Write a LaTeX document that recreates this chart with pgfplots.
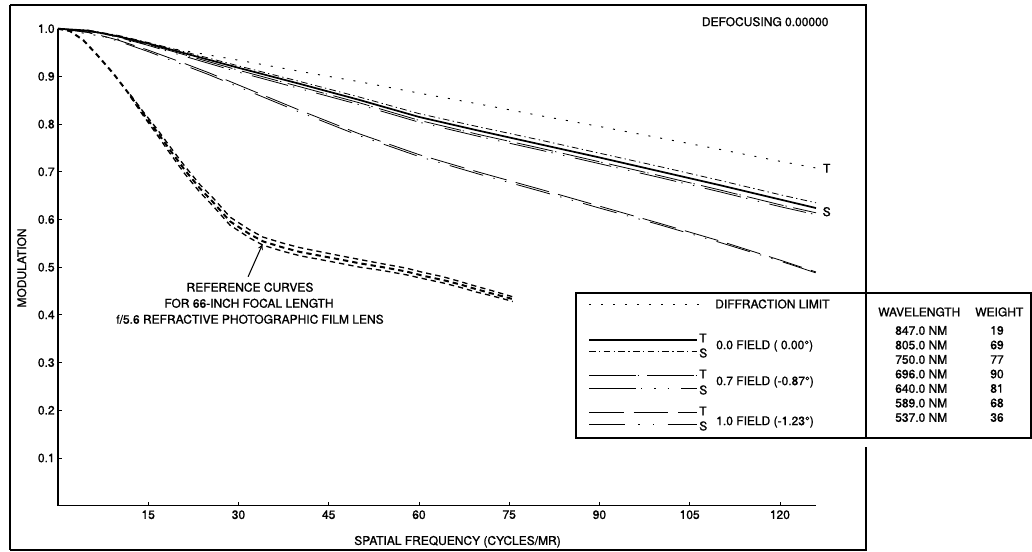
\documentclass[border=0pt]{standalone}
\usepackage{pgfplots}
\pgfplotsset{compat=1.18}
\usepackage{fontspec}
\setmainfont{TeX Gyre Heros}[FakeBold=1.2]
\begin{document}
\begin{tikzpicture}[x=0.75pt,y=0.75pt,font=\fontsize{9}{10}\selectfont]
\useasboundingbox (0,0) rectangle (1032,552);
% outer frame
\draw[line width=1pt] (10,547) -- (866,547) -- (866,259);
\draw[line width=1.6pt] (10,547) -- (10,2);
\draw[line width=1pt] (10,2) -- (866,2) -- (866,105);
\begin{axis}[
  at={(43.5pt,34.725pt)}, anchor=south west,
  scale only axis, width=568.5pt, height=357.75pt,
  xmin=0, xmax=126, ymin=0, ymax=1,
  axis lines*=left, axis line style={line width=1pt},
  clip=false,
  xtick={15,30,45,60,75,90,105,120},
  xticklabels={15,30,45,60,75,90,105,120},
  ytick={0.1,0.2,0.3,0.4,0.5,0.6,0.7,0.8,0.9,1.0},
  yticklabels={0.1,0.2,0.3,0.4,0.5,0.6,0.7,0.8,0.9,1.0},
  tick align=inside, major tick length=3pt,
  tick style={line width=0.6pt, black},
  ticklabel style={font=\fontsize{9}{10}\selectfont},
  /pgf/number format/assume math mode=true,
  yticklabel style={xshift=1pt},
]
% diffraction limit
\addplot[black, line width=0.7pt, dash pattern=on 1.5pt off 7.5pt] coordinates {
(0,1.0) (10,0.978) (20,0.956) (30,0.934) (40,0.911) (50,0.889) (60,0.865) (70,0.842) (80,0.818) (90,0.795) (100,0.771) (110,0.747) (120,0.722) (126,0.708)};
% 0.0 field T
\addplot[black, line width=1.3pt] coordinates {
(0,1.0) (5,0.996) (10,0.984) (15,0.969) (20,0.952) (30,0.918) (40,0.885) (50,0.851) (60,0.815) (70,0.786) (80,0.758) (90,0.730) (100,0.701) (110,0.672) (120,0.642) (126,0.624)};
% 0.0 field S
\addplot[black, line width=0.6pt, dash pattern=on 5pt off 2.5pt on 1pt off 2.5pt] coordinates {
(0,1.0) (5,0.997) (10,0.986) (15,0.971) (20,0.955) (30,0.922) (40,0.890) (50,0.857) (60,0.822) (70,0.794) (80,0.767) (90,0.739) (100,0.711) (110,0.682) (120,0.652) (126,0.635)};
% 0.7 field T
\addplot[black, line width=0.6pt, dash pattern=on 28pt off 1.5pt on 1pt off 5pt] coordinates {
(0,1.0) (5,0.995) (10,0.983) (15,0.967) (20,0.949) (30,0.913) (40,0.879) (50,0.845) (60,0.808) (70,0.778) (80,0.750) (90,0.721) (100,0.692) (110,0.662) (120,0.631) (126,0.614)};
% 0.7 field S
\addplot[black, line width=0.6pt, dash pattern=on 28pt off 4pt on 1pt off 8pt on 1pt off 8pt] coordinates {
(0,1.0) (5,0.995) (10,0.982) (15,0.965) (20,0.946) (30,0.909) (40,0.875) (50,0.841) (60,0.804) (70,0.774) (80,0.746) (90,0.717) (100,0.688) (110,0.658) (120,0.627) (126,0.610)};
% 1.0 field T
\addplot[black, line width=0.6pt, dash pattern=on 26pt off 7pt] coordinates {
(0,1.0) (5,0.993) (10,0.976) (15,0.955) (20,0.932) (25,0.908) (30,0.882) (40,0.830) (50,0.780) (60,0.736) (70,0.699) (80,0.664) (90,0.628) (100,0.592) (110,0.555) (120,0.515) (126,0.490)};
% 1.0 field S
\addplot[black, line width=0.6pt, dash pattern=on 26pt off 8pt on 1pt off 8pt on 1pt off 8pt] coordinates {
(0,1.0) (5,0.992) (10,0.974) (15,0.952) (20,0.928) (25,0.904) (30,0.878) (40,0.826) (50,0.776) (60,0.732) (70,0.695) (80,0.660) (90,0.624) (100,0.589) (110,0.552) (120,0.513) (126,0.488)};
% reference curves
\addplot[black, line width=1.5pt, dash pattern=on 4pt off 3pt] coordinates {
(0,1.0) (2,0.995) (4.2,0.976) (6.5,0.945) (9.2,0.906) (12,0.860) (14.1,0.823) (16.5,0.783) (18.6,0.746) (21,0.705) (23.6,0.665) (25.8,0.636) (28.6,0.596) (31.9,0.569) (34.1,0.554) (37.2,0.542) (40.2,0.532) (45.7,0.519) (50.2,0.508) (54,0.500) (57.9,0.491) (60.7,0.482) (64,0.473) (66.8,0.464) (69.5,0.454) (71.8,0.446) (74.5,0.437) (75.6,0.433)};
\addplot[black, line width=1pt, dash pattern=on 4pt off 3pt] coordinates {
(12,0.862) (14.1,0.827) (16.5,0.789) (18.6,0.753) (21,0.713) (23.6,0.673) (25.8,0.645) (28.6,0.605) (31.9,0.578) (34.1,0.563) (37.2,0.551) (40.2,0.541) (45.7,0.527) (50.2,0.516) (54,0.507) (57.9,0.498) (60.7,0.489) (64,0.480) (66.8,0.470) (69.5,0.460) (71.8,0.452) (74.5,0.442) (75.6,0.438)};
\addplot[black, line width=1pt, dash pattern=on 4pt off 3pt] coordinates {
(12,0.858) (14.1,0.819) (16.5,0.777) (18.6,0.739) (21,0.697) (23.6,0.657) (25.8,0.628) (28.6,0.588) (31.9,0.561) (34.1,0.546) (37.2,0.534) (40.2,0.524) (45.7,0.511) (50.2,0.500) (54,0.493) (57.9,0.484) (60.7,0.476) (64,0.467) (66.8,0.458) (69.5,0.448) (71.8,0.441) (74.5,0.432) (75.6,0.428)};
\draw[-stealth, line width=0.8pt] (axis cs:31.6,0.480) -- (axis cs:34.0,0.548);
\end{axis}
% annotation text
\node at (250,264.7) {REFERENCE CURVES};
\node at (249,248.7) {FOR 66-INCH FOCAL LENGTH};
\node at (250,232.7) {f/5.6 REFRACTIVE PHOTOGRAPHIC FILM LENS};
\node[anchor=west, inner sep=0pt] at (701.7,530.3) {DEFOCUSING 0.00000};
\node[rotate=90] at (21.7,284) {MODULATION};
\node at (457.5,10.3) {SPATIAL FREQUENCY (CYCLES/MR)};
\node at (826.7,383.7) {T};
\node at (826.7,340.3) {S};
% legend
\draw[line width=0.9pt, fill=white] (576,114) rectangle (1031,259);
\draw[line width=0.9pt] (866,114) -- (866,259);
\draw[line width=0.7pt, dash pattern=on 1.5pt off 7.5pt] (589,248) -- (699,248);
\node[anchor=west, inner sep=0pt] at (715,248) {DIFFRACTION LIMIT};
\draw[line width=0.9pt] (589,212) -- (697,212);
\draw[line width=0.6pt, dash pattern=on 5pt off 2.5pt on 1pt off 2.5pt] (589,201) -- (697,201);
\node[anchor=west, inner sep=0pt] at (699,214) {T};
\node[anchor=west, inner sep=0pt] at (699,199) {S};
\node[anchor=west, inner sep=0pt] at (716,206) {0.0 FIELD ( 0.00°)};
\draw[line width=0.6pt, dash pattern=on 35pt off 1.5pt on 1pt off 6pt] (589,177) -- (697,177);
\draw[line width=0.6pt, dash pattern=on 35pt off 4pt on 1pt off 9pt on 1pt off 9pt on 1pt off 9pt] (589,164) -- (697,164);
\node[anchor=west, inner sep=0pt] at (699,178) {T};
\node[anchor=west, inner sep=0pt] at (699,162) {S};
\node[anchor=west, inner sep=0pt] at (716,170) {0.7 FIELD (-0.87°)};
\draw[line width=0.6pt, dash pattern=on 26pt off 7.5pt] (589,140) -- (697,140);
\draw[line width=0.6pt, dash pattern=on 27pt off 10pt on 1pt off 10pt on 1pt off 10pt] (589,128) -- (697,128);
\node[anchor=west, inner sep=0pt] at (699,141) {T};
\node[anchor=west, inner sep=0pt] at (699,126) {S};
\node[anchor=west, inner sep=0pt] at (716,130) {1.0 FIELD (-1.23°)};
\node[anchor=west, inner sep=0pt] at (878,240) {WAVELENGTH};
\node[anchor=west, inner sep=0pt] at (975,240) {WEIGHT};
\node[anchor=west, inner sep=0pt] at (895,221.5) {847.0 NM};
\node[anchor=west, inner sep=0pt] at (895,207) {805.0 NM};
\node[anchor=west, inner sep=0pt] at (895,192.5) {750.0 NM};
\node[anchor=west, inner sep=0pt] at (895,178) {696.0 NM};
\node[anchor=west, inner sep=0pt] at (895,163.5) {640.0 NM};
\node[anchor=west, inner sep=0pt] at (895,149) {589.0 NM};
\node[anchor=west, inner sep=0pt] at (895,134.5) {537.0 NM};
\node[inner sep=0pt] at (997,221.5) {19};
\node[inner sep=0pt] at (997,207) {69};
\node[inner sep=0pt] at (997,192.5) {77};
\node[inner sep=0pt] at (997,178) {90};
\node[inner sep=0pt] at (997,163.5) {81};
\node[inner sep=0pt] at (997,149) {68};
\node[inner sep=0pt] at (997,134.5) {36};
\end{tikzpicture}
\end{document}
